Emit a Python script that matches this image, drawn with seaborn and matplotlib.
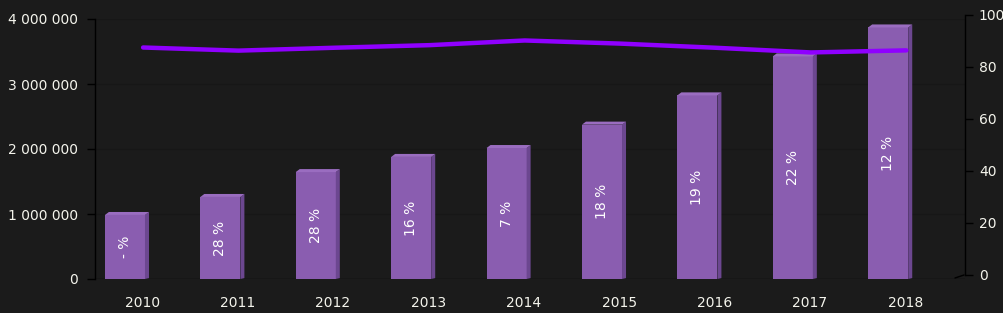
import matplotlib
matplotlib.use("Agg")
import matplotlib.pyplot as plt
import seaborn as sns
import pandas as pd
import numpy as np
from matplotlib.patches import Polygon

years = ["2010", "2011", "2012", "2013", "2014", "2015", "2016", "2017", "2018"]
values = [985000, 1262000, 1645000, 1878000, 2015000, 2375000, 2825000, 3425000, 3870000]
growth_labels = ["- %", "28 %", "28 %", "16 %", "7 %", "18 %", "19 %", "22 %", "12 %"]
line_values = [87.5, 86.3, 87.4, 88.4, 90.2, 89.0, 87.4, 85.6, 86.4]
left_ticks = [0, 1000000, 2000000, 3000000, 4000000]
left_tick_labels = ["0", "1 000 000", "2 000 000", "3 000 000", "4 000 000"]
right_ticks = [0, 20, 40, 60, 80, 100]

df = pd.DataFrame({"year": years, "value": values})

sns.set_theme(style="dark")
plt.rcParams['font.family'] = ['DejaVu Sans']

W, H = 1004, 313
bg = "#1b1b1b"
fig = plt.figure(figsize=(W / 100, H / 100), dpi=100, facecolor=bg)

x0, x1 = 95, 965
ax = fig.add_axes([x0 / W, 1 - 279 / H, (x1 - x0) / W, 260 / H])
ax.set_facecolor(bg)

bar_col = "#8a5db0"
side_col = "#6c4790"
top_col = "#9a6dc0"
sns.barplot(data=df, x="year", y="value", color=bar_col, width=0.42,
            saturation=1, ax=ax, zorder=3, edgecolor="none")

ax.set_xlim(-0.314, 8.805)
ax.set_ylim(0, 4000000)

# 3D side and top faces
upx = 95.4  # pixels per category unit
dx = 4 / upx
dy = 3 * 4000000 / 260
for p in list(ax.patches):
    xl = p.get_x(); w = p.get_width(); h = p.get_height()
    xr = xl + w
    side = Polygon([[xr, 0], [xr + dx, dy * 0.3], [xr + dx, h + dy], [xr, h]],
                   closed=True, facecolor=side_col, edgecolor="none", zorder=3)
    top = Polygon([[xl, h], [xl + dx, h + dy], [xr + dx, h + dy], [xr, h]],
                  closed=True, facecolor=top_col, edgecolor="none", zorder=3)
    ax.add_patch(side); ax.add_patch(top)

for i, (v, lab) in enumerate(zip(values, growth_labels)):
    ax.text(i, v / 2, lab, rotation=90, ha="center", va="center",
            color="white", fontsize=10, zorder=5)

ax.set_yticks(left_ticks)
ax.set_yticklabels(left_tick_labels)
offs = 0.18
ax.set_xticks([i + offs for i in range(len(years))])
ax.set_xticklabels(years)
ax.tick_params(axis="y", colors="black", labelcolor="#f4f4ec", labelsize=10,
               length=6, width=1, direction="out", left=True, pad=6)
ax.tick_params(axis="x", labelcolor="#f4f4ec", labelsize=10, length=0, pad=12)
ax.set_xlabel(""); ax.set_ylabel("")
for s in ["top", "right", "bottom"]:
    ax.spines[s].set_visible(False)
ax.spines["left"].set_color("black")
ax.spines["left"].set_linewidth(1)
ax.grid(axis="y", color="#171717", linewidth=1)
ax.grid(axis="x", visible=False)
ax.axhline(0, color="#0e0e0e", linewidth=1, zorder=2)

# right axis (shifted up 4 px for 3D depth)
ax2 = fig.add_axes([x0 / W, 1 - 275 / H, (x1 - x0) / W, 260 / H], facecolor="none")
ldf = pd.DataFrame({"x": [i + 0.19 for i in range(len(years))], "v": line_values})
sns.lineplot(data=ldf, x="x", y="v", ax=ax2, color="#8f00ff", linewidth=3.2,
             zorder=6)
ax2.set_xlim(-0.314, 8.805)
ax2.set_ylim(0, 100)
ax2.yaxis.tick_right()
ax2.set_yticks(right_ticks)
ax2.set_yticklabels([str(t) for t in right_ticks])
ax2.set_xticks([])
ax2.set_xlabel(""); ax2.set_ylabel("")
ax2.tick_params(axis="y", colors="black", labelcolor="#f4f4ec", labelsize=10,
                length=6, width=1, direction="out", right=True, left=False, pad=4)
for s in ["top", "left", "bottom"]:
    ax2.spines[s].set_visible(False)
ax2.spines["right"].set_color("black")
ax2.spines["right"].set_linewidth(1)
ax2.grid(False)
# small 3D corner stroke at the base of the right axis
fig.add_artist(plt.Line2D([955 / W, 964 / W], [1 - 278 / H, 1 - 275 / H],
                          color="black", linewidth=1))

fig.savefig("out.png", dpi=100, facecolor=bg)
